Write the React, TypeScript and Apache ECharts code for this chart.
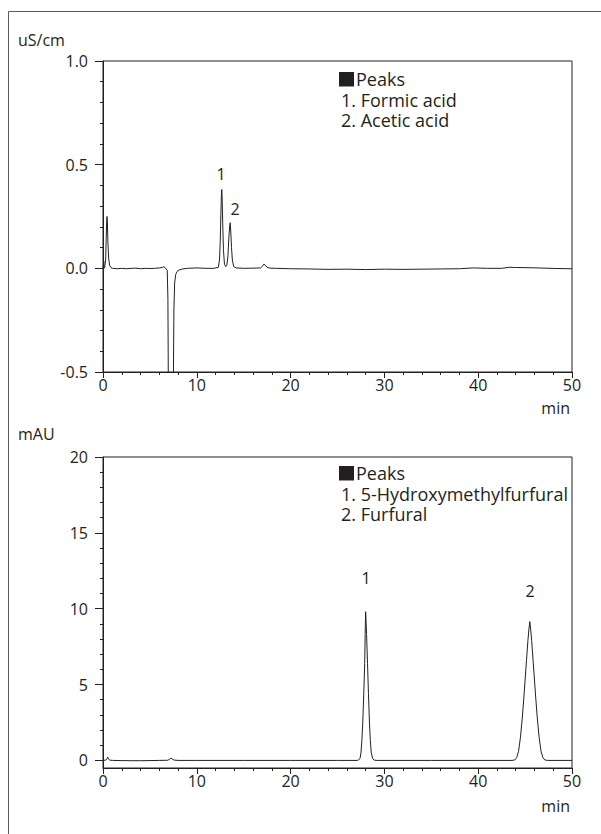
import React, { useEffect, useRef } from "react";
import * as echarts from "echarts";

// ---------- data ----------
// conductivity trace (time [min], signal [uS/cm])
const conductivityTrace: [number, number][] = [
  [0, 0], [0.08, 0.035], [0.12, 0.0], [0.18, 0.005], [0.28, 0.04], [0.34, 0.14],
  [0.39, 0.23], [0.43, 0.25], [0.47, 0.22], [0.52, 0.13], [0.6, 0.05], [0.7, 0.015],
  [0.85, 0.004], [1.0, 0.0], [1.5, -0.002], [2.0, 0.0], [2.5, -0.002], [3.0, 0.0],
  [3.5, 0.001], [4.0, -0.002], [4.5, 0.0], [5.0, -0.001], [5.5, 0.0], [6.0, 0.002],
  [6.3, 0.004], [6.5, 0.008], [6.65, 0.002], [6.85, -0.01], [6.92, -0.15], [6.97, -0.6],
  [7.02, -0.9], [7.45, -0.9], [7.5, -0.55], [7.56, -0.2], [7.64, -0.07], [7.75, -0.03],
  [7.9, -0.015], [8.1, -0.008], [8.5, -0.003], [9.0, 0.0], [10.0, 0.002], [11.0, 0.0],
  [11.8, 0.0], [12.3, 0.005], [12.42, 0.04], [12.5, 0.13], [12.57, 0.27], [12.62, 0.35],
  [12.66, 0.38], [12.7, 0.34], [12.76, 0.22], [12.84, 0.09], [12.95, 0.02], [13.08, 0.008],
  [13.2, 0.015], [13.32, 0.06], [13.42, 0.15], [13.5, 0.2], [13.56, 0.22], [13.62, 0.18],
  [13.7, 0.1], [13.8, 0.035], [13.95, 0.008], [14.2, 0.002], [15.0, 0.0], [16.0, 0.001],
  [16.8, 0.002], [17.0, 0.01], [17.15, 0.02], [17.3, 0.015], [17.5, 0.005], [17.8, 0.001],
  [18.5, 0.0], [20, -0.002], [22, -0.003], [24, -0.005], [26, -0.004], [28, -0.006],
  [30, -0.004], [32, -0.005], [34, -0.004], [36, -0.003], [38, -0.002], [39.5, 0.002],
  [41, 0.0], [42.5, 0.0], [43.3, 0.005], [44, 0.004], [45.5, 0.003], [47, 0.001],
  [48.5, -0.001], [50, -0.002],
];

// UV trace (time [min], absorbance [mAU])
const uvTrace: [number, number][] = [
  [0, 0], [0.3, 0.02], [0.42, 0.12], [0.5, 0.22], [0.58, 0.1], [0.7, 0.02], [1, 0],
  [2, -0.01], [3, -0.02], [4, -0.02], [5, -0.01], [6, 0], [6.9, 0.01], [7.1, 0.08],
  [7.25, 0.16], [7.4, 0.08], [7.6, 0.02], [8, 0], [10, 0], [15, 0], [20, 0], [25, 0],
  [27.1, 0], [27.25, 0.04], [27.4, 0.12], [27.5, 0.5], [27.6, 1.3], [27.7, 2.6],
  [27.8, 4.4], [27.9, 6.4], [27.95, 8.3], [28.0, 9.8], [28.05, 9.1], [28.1, 8.3],
  [28.2, 6.4], [28.3, 4.4], [28.4, 2.6], [28.5, 1.3], [28.6, 0.5], [28.75, 0.12],
  [28.9, 0.02], [29.2, 0], [35, 0], [40, 0], [43.6, 0], [43.9, 0.03], [44.1, 0.18],
  [44.3, 0.6], [44.5, 1.5], [44.7, 2.8], [44.85, 4.0], [45.0, 5.3], [45.15, 6.6],
  [45.3, 7.9], [45.4, 8.6], [45.5, 9.15], [45.6, 8.6], [45.7, 7.9], [45.85, 6.6],
  [46.0, 5.3], [46.15, 4.0], [46.3, 2.8], [46.5, 1.5], [46.7, 0.6], [46.9, 0.18],
  [47.1, 0.03], [47.4, 0], [50, 0],
];

// peak annotations
const conductivityPeakNames = ["1", "2"];
const conductivityPeakTimes = [12.66, 13.56];
const conductivityPeakHeights = [0.38, 0.22];
const uvPeakNames = ["1", "2"];
const uvPeakTimes = [28.0, 45.5];
const uvPeakHeights = [9.8, 9.15];

// axes
const xTicks = [0, 10, 20, 30, 40, 50];
const conductivityYTicks = [-0.5, 0, 0.5, 1.0];
const uvYTicks = [0, 5, 10, 15, 20];
const uvYMinorTicks = [1, 2, 3, 4, 6, 7, 8, 9, 11, 12, 13, 14, 16, 17, 18, 19];
const conductivityUnit = "uS/cm";
const uvUnit = "mAU";
const timeUnit = "min";

// legends
const conductivityLegend = ["Peaks", "1. Formic acid", "2. Acetic acid"];
const uvLegend = ["Peaks", "1. 5-Hydroxymethylfurfural", "2. Furfural"];

// ---------- styling ----------
const INK = "#231f20";
const FONT = '"Open Sans", "Noto Sans", sans-serif';
const GRID_LEFT = 103;
const GRID_W = 469;
const GRID_H = 311;
const TOP1 = 61;
const TOP2 = 457;

function legendBlock(lines: string[], x: number, y: number) {
  const text = lines
    .map((t, i) => (i === 0 ? `{sq|}{t|${t}}` : `{t|${t}}`))
    .join("\n");
  return {
    type: "text",
    x,
    y,
    style: {
      text,
      fill: INK,
      align: "left",
      verticalAlign: "top",
      rich: {
        sq: { width: 15, height: 14.5, lineHeight: 20.5, backgroundColor: INK, padding: 0 },
        t: { fontSize: 18, fontFamily: FONT, lineHeight: 20.5, fill: INK, color: INK, padding: [0, 0, 0, 2] },
      },
    },
  };
}

function unitText(t: string, x: number, y: number, align = "left") {
  return {
    type: "text",
    x,
    y,
    style: { text: t, font: `16px ${FONT}`, fill: INK, verticalAlign: "middle", align },
  };
}

export default function App() {
  const ref = useRef<HTMLDivElement>(null);

  useEffect(() => {
    if (!ref.current) return;
    const chart = echarts.init(ref.current, undefined, { renderer: "svg" });

    const axisLine = { show: true, onZero: false, lineStyle: { color: INK, width: 1 } };
    const labelStyle = { color: INK, fontSize: 16, fontFamily: FONT };

    const xAxisFor = (gridIndex: number) => ({
      type: "value",
      gridIndex,
      min: xTicks[0],
      max: xTicks[xTicks.length - 1],
      interval: 10,
      position: "bottom",
      axisLine,
      axisTick: { show: true, length: 6, inside: false, lineStyle: { color: INK } },
      minorTick: { show: true, splitNumber: 5, length: 3, lineStyle: { color: INK } },
      axisLabel: { ...labelStyle, margin: 5 },
      splitLine: { show: false },
      minorSplitLine: { show: false },
    });

    chart.setOption({
      animation: false,
      backgroundColor: "#ffffff",
      grid: [
        { left: GRID_LEFT, top: TOP1, width: GRID_W, height: GRID_H, show: true, borderColor: INK, borderWidth: 1, containLabel: false },
        { left: GRID_LEFT, top: TOP2, width: GRID_W, height: GRID_H, show: true, borderColor: INK, borderWidth: 1, containLabel: false },
      ],
      xAxis: [xAxisFor(0), xAxisFor(1)],
      yAxis: [
        {
          type: "value",
          gridIndex: 0,
          min: conductivityYTicks[0],
          max: conductivityYTicks[conductivityYTicks.length - 1],
          interval: 0.5,
          axisLine,
          axisTick: { show: true, length: 8, lineStyle: { color: INK } },
          minorTick: { show: true, splitNumber: 5, length: 3, lineStyle: { color: INK } },
          axisLabel: { ...labelStyle, margin: 15, formatter: (v: number) => v.toFixed(1) },
          splitLine: { show: false },
          minorSplitLine: { show: false },
        },
        {
          type: "value",
          gridIndex: 1,
          min: -0.5,
          max: uvYTicks[uvYTicks.length - 1],
          axisLine,
          axisTick: { show: true, length: 8, lineStyle: { color: INK }, customValues: uvYTicks },
          axisLabel: { ...labelStyle, margin: 15, customValues: uvYTicks },
          splitLine: { show: false },
        },
        {
          type: "value",
          gridIndex: 1,
          min: -0.5,
          max: uvYTicks[uvYTicks.length - 1],
          position: "left",
          axisLine: { show: false },
          axisTick: { show: true, length: 3, lineStyle: { color: INK }, customValues: uvYMinorTicks },
          axisLabel: { show: false },
          splitLine: { show: false },
        },
      ],
      series: [
        {
          type: "line",
          xAxisIndex: 0,
          yAxisIndex: 0,
          data: conductivityTrace,
          showSymbol: false,
          symbol: "none",
          lineStyle: { color: INK, width: 1 },
          clip: true,
        },
        {
          type: "line",
          xAxisIndex: 1,
          yAxisIndex: 1,
          data: uvTrace,
          showSymbol: false,
          symbol: "none",
          lineStyle: { color: INK, width: 1 },
          clip: true,
        },
      ],
    });

    // peak numbers, positioned through the chart's own axis scales
    const peakTexts = (
      axisIndex: number,
      names: string[],
      times: number[],
      heights: number[],
      offsets: number[][]
    ) =>
      names.map((n, i) => {
        const p = chart.convertToPixel(
          { xAxisIndex: axisIndex, yAxisIndex: axisIndex },
          [times[i], heights[i]]
        ) as number[];
        return {
          type: "text",
          x: Math.round(p[0] + offsets[i][0]),
          y: Math.round(p[1] + offsets[i][1]),
          style: { text: n, font: `16px ${FONT}`, fill: INK, align: "center", verticalAlign: "middle" },
        };
      });

    chart.setOption({
      graphic: [
        {
          type: "rect",
          shape: { x: 8.5, y: 11.5, width: 700, height: 900 },
          style: { fill: "none", stroke: "#5a5a5a", lineWidth: 1 },
          silent: true,
        },
        unitText(conductivityUnit, 18, 40),
        unitText(timeUnit, 570, 408, "right"),
        unitText(uvUnit, 18, 434),
        unitText(timeUnit, 570, 806, "right"),
        legendBlock(conductivityLegend, 339, 69),
        legendBlock(uvLegend, 339, 463),
        ...peakTexts(0, conductivityPeakNames, conductivityPeakTimes, conductivityPeakHeights, [[-1, -16], [5, -14]]),
        ...peakTexts(1, uvPeakNames, uvPeakTimes, uvPeakHeights, [[0, -34], [0, -31]]),
      ],
    });

    return () => chart.dispose();
  }, []);

  return (
    <div
      ref={ref}
      style={{ position: "absolute", left: 0, top: 0, width: 601, height: 834 }}
    />
  );
}
